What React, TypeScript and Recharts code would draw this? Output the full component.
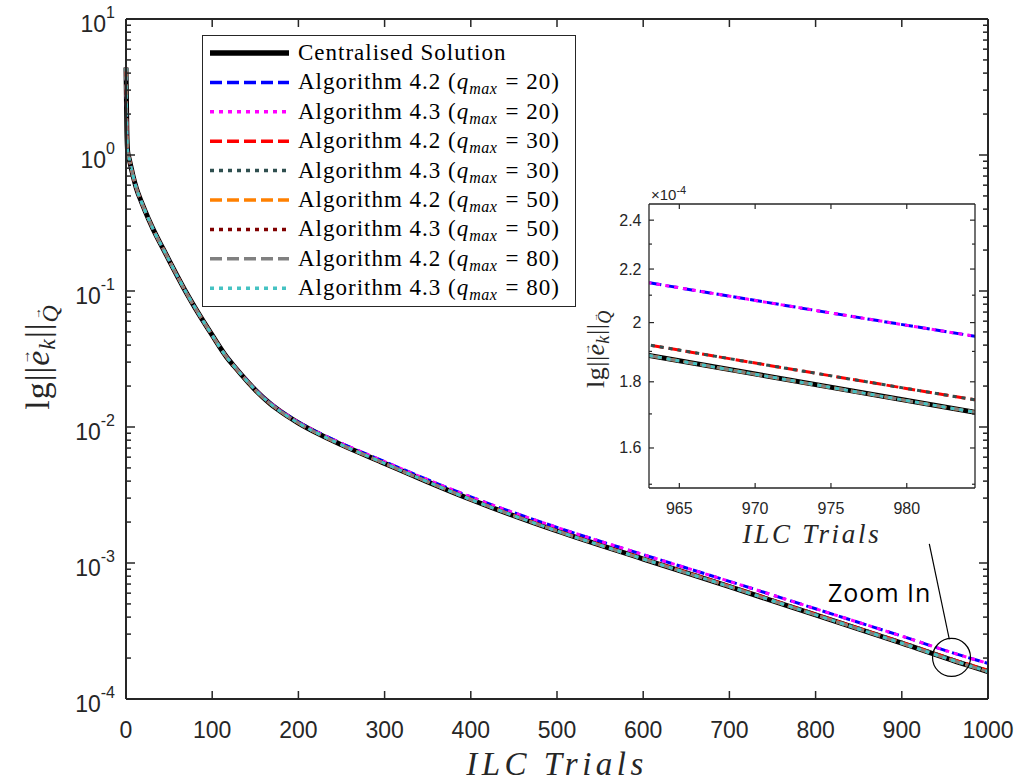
import React from 'react';
import {
  LineChart, Line, XAxis, YAxis, Legend, ReferenceDot, ReferenceLine, Customized,
} from 'recharts';

// values (log-scale error norm per ILC trial)
const trials = [0, 1, 2, 3, 5, 8, 12, 18, 26, 35, 43, 50, 60, 70, 80, 90, 100, 117, 125, 142, 150, 167, 175, 200, 225, 250, 300, 350, 400, 500, 600, 700, 800, 900, 963, 984.5, 1000];

const centralised = [4.4, 1.5, 1.05, 0.98, 0.86, 0.71, 0.57, 0.45, 0.34, 0.256, 0.205, 0.168, 0.127, 0.097, 0.0755, 0.0595, 0.0473, 0.0325, 0.0282, 0.0212, 0.0187, 0.0149, 0.0136, 0.0107, 0.0088, 0.0074, 0.0054, 0.00395, 0.00293, 0.00172, 0.00107, 0.00067, 0.000415, 0.000257, 0.0001886, 0.0001705, 0.000159];

const alg42q20 = [4.4, 1.5, 1.05, 0.98, 0.86, 0.71, 0.57, 0.45, 0.34, 0.256, 0.205, 0.168, 0.127, 0.097, 0.0755, 0.0595, 0.0473, 0.03266, 0.02837, 0.02137, 0.01889, 0.01508, 0.01378, 0.01087, 0.008976, 0.00758, 0.005567, 0.0041, 0.003062, 0.001827, 0.001153, 0.000733, 0.0004607, 0.0002899, 0.0002147, 0.0001952, 0.0001829];
const alg43q20 = alg42q20; // drawn on top of 4.2 in the figure

const alg42q30 = [4.4, 1.5, 1.05, 0.98, 0.86, 0.71, 0.57, 0.45, 0.34, 0.256, 0.205, 0.168, 0.127, 0.097, 0.0755, 0.0595, 0.0473, 0.0325, 0.0282, 0.0212, 0.0187, 0.0149, 0.0136, 0.0107, 0.0088, 0.0074, 0.0054, 0.003958, 0.002942, 0.001732, 0.001081, 0.0006787, 0.0004212, 0.0002614, 0.0001922, 0.0001743, 0.0001627];
const alg43q30 = alg42q30;

// q=50 and q=80 sit right on the centralised curve
const alg42q50 = centralised;
const alg43q50 = centralised;
const alg42q80 = centralised;
const alg43q80 = centralised;

const xTicks = [0, 100, 200, 300, 400, 500, 600, 700, 800, 900, 1000];
const yMajorTicks = [1e-4, 1e-3, 1e-2, 1e-1, 1, 10];
const yExponents = ['-4', '-3', '-2', '-1', '0', '1'];
const yMinorSteps = [2, 3, 4, 5, 6, 7, 8, 9];
const yAllTicks = [
  ...yMajorTicks,
  ...yMajorTicks.slice(0, -1).flatMap((d) => yMinorSteps.map((m) => m * d)),
];

const insetXTicks = [965, 970, 975, 980];
const insetYTicks = [1.5e-4, 1.6e-4, 1.7e-4, 1.8e-4, 1.9e-4, 2.0e-4, 2.1e-4, 2.2e-4, 2.3e-4, 2.4e-4];
const insetYLabelled = [1.6e-4, 1.8e-4, 2.0e-4, 2.2e-4, 2.4e-4];
const insetYLabels = ['1.6', '1.8', '2', '2.2', '2.4'];

const SERIES = [
  { key: 'central', values: centralised, label: 'Centralised Solution', color: '#000000', width: 5 },
  { key: 'a42q20', values: alg42q20, algo: '4.2', q: '20', color: '#0000FF', width: 3, dash: '12 5' },
  { key: 'a43q20', values: alg43q20, algo: '4.3', q: '20', color: '#FF00FF', width: 3, dash: '4 5' },
  { key: 'a42q30', values: alg42q30, algo: '4.2', q: '30', color: '#FF0000', width: 3, dash: '12 5' },
  { key: 'a43q30', values: alg43q30, algo: '4.3', q: '30', color: '#2F4F4F', width: 3, dash: '4 5' },
  { key: 'a42q50', values: alg42q50, algo: '4.2', q: '50', color: '#FF8000', width: 3, dash: '12 5' },
  { key: 'a43q50', values: alg43q50, algo: '4.3', q: '50', color: '#800000', width: 3, dash: '4 5' },
  { key: 'a42q80', values: alg42q80, algo: '4.2', q: '80', color: '#808080', width: 3, dash: '12 5' },
  { key: 'a43q80', values: alg43q80, algo: '4.3', q: '80', color: '#45C2C2', width: 3, dash: '4 5' },
];

const data = trials.map((trial, i) => {
  const row: Record<string, number> = { trial };
  SERIES.forEach((s) => { row[s.key] = s.values[i]; });
  return row;
});

const AXIS = '#262626';
const SANS = '"Liberation Sans", Arial, sans-serif';
const SERIF = '"Liberation Serif", "Times New Roman", serif';

const near = (list: number[], v: number) => list.findIndex((t) => Math.abs(v / t - 1) < 1e-6);

// ---- main axes ticks (MATLAB style: inward ticks, box on all sides) ----
const MainBottomTick = ({ x, y, payload }: any) => (
  <g>
    <line x1={x} y1={y} x2={x} y2={y - 8} stroke={AXIS} strokeWidth={1.5} />
    <text x={x} y={y + 38.5} textAnchor="middle" fontFamily={SANS} fontSize={23} fill={AXIS}>{payload.value}</text>
  </g>
);
const MainTopTick = ({ x, y }: any) => (
  <line x1={x} y1={y} x2={x} y2={y + 8} stroke={AXIS} strokeWidth={1.5} />
);
const MainLeftTick = ({ x, y, payload }: any) => {
  const idx = near(yMajorTicks, payload.value);
  const major = idx >= 0;
  return (
    <g>
      <line x1={x} y1={y} x2={x + (major ? 9 : 5)} y2={y} stroke={AXIS} strokeWidth={1.5} />
      {major && (
        <text x={x - 11} y={y + 13} textAnchor="end" fontFamily={SANS} fontSize={23} fill={AXIS}>
          10<tspan dy={-14} fontSize={16}>{yExponents[idx]}</tspan>
        </text>
      )}
    </g>
  );
};
const MainRightTick = ({ x, y, payload }: any) => {
  const major = near(yMajorTicks, payload.value) >= 0;
  return <line x1={x} y1={y} x2={x - (major ? 9 : 5)} y2={y} stroke={AXIS} strokeWidth={1.5} />;
};

// ---- inset ticks ----
const InsetBottomTick = ({ x, y, payload }: any) => (
  <g>
    <line x1={x} y1={y} x2={x} y2={y - 5} stroke={AXIS} strokeWidth={1.2} />
    <text x={x} y={y + 26} textAnchor="middle" fontFamily={SANS} fontSize={16} fill={AXIS}>{payload.value}</text>
  </g>
);
const InsetTopTick = ({ x, y }: any) => (
  <line x1={x} y1={y} x2={x} y2={y + 5} stroke={AXIS} strokeWidth={1.2} />
);
const InsetLeftTick = ({ x, y, payload }: any) => {
  const idx = near(insetYLabelled, payload.value);
  return (
    <g>
      <line x1={x} y1={y} x2={x + (idx >= 0 ? 5 : 3)} y2={y} stroke={AXIS} strokeWidth={1.2} />
      {idx >= 0 && (
        <text x={x - 7.5} y={y + 5.5} textAnchor="end" fontFamily={SANS} fontSize={16} fill={AXIS}>{insetYLabels[idx]}</text>
      )}
    </g>
  );
};
const InsetRightTick = ({ x, y, payload }: any) => {
  const major = near(insetYLabelled, payload.value) >= 0;
  return <line x1={x} y1={y} x2={x - (major ? 5 : 3)} y2={y} stroke={AXIS} strokeWidth={1.2} />;
};

// y label: lg||e_k||_Q with vector arrows over e and Q
function YTitle({ x, y, size, spacing }: { x: number; y: number; size: number; spacing: number }) {
  const sub = size * 0.7;
  const up = size * 0.55;
  return (
    <text
      transform={`translate(${x},${y}) rotate(-90)`}
      textAnchor="middle"
      fontFamily={SERIF}
      fontSize={size}
      fill={AXIS}
      letterSpacing={spacing}
    >
      lg||<tspan fontStyle="italic">e</tspan>
      <tspan fontSize={size * 0.45} dx={-size * 0.44} dy={-up}>→</tspan>
      <tspan fontStyle="italic" fontSize={sub} dx={-size * 0.04} dy={up + size * 0.18}>k</tspan>
      <tspan dy={-size * 0.18}>||</tspan>
      <tspan fontStyle="italic" fontSize={sub} dy={size * 0.25}>Q</tspan>
      <tspan fontSize={size * 0.36} dx={-size * 0.46} dy={-size * 0.5}>→</tspan>
    </text>
  );
}

const MainTitles = () => (
  <g>
    <text x={557} y={775} textAnchor="middle" fontFamily={SERIF} fontStyle="italic" fontSize={33} fill={AXIS} letterSpacing={4.5}>
      ILC Trials
    </text>
    <YTitle x={49} y={357} size={34} spacing={1} />
    <text x={828} y={602} fontFamily='"Open Sans", sans-serif' fontSize={25} fill="#000" letterSpacing={1}>Zoom In</text>
  </g>
);

const InsetTitles = () => (
  <g>
    <text x={252} y={373} textAnchor="middle" fontFamily={SERIF} fontStyle="italic" fontSize={27} fill={AXIS} letterSpacing={2.7}>
      ILC Trials
    </text>
    <YTitle x={44} y={179} size={26} spacing={0.5} />
    <text x={91} y={30} fontFamily={SANS} fontSize={15} fill={AXIS}>
      ×10<tspan dy={-6} fontSize={11}>-4</tspan>
    </text>
  </g>
);

function LegendBox() {
  return (
    <div style={{ width: 374, height: 272, boxSizing: 'border-box', border: `1px solid ${AXIS}`, background: '#fff' }}>
      <svg width={372} height={270} style={{ display: 'block' }}>
        {SERIES.map((s, i) => {
          const cy = 17 + i * 29.4;
          return (
            <g key={s.key}>
              <line x1={7} x2={86} y1={cy} y2={cy} stroke={s.color} strokeWidth={s.key === 'central' ? 5.5 : 3.5} strokeDasharray={s.dash} />
              <text x={95} y={cy + 7} fontFamily={SERIF} fontSize={23} fill="#000" letterSpacing={1}>
                {s.label ? s.label : (
                  <>
                    Algorithm {s.algo} (<tspan fontStyle="italic">q</tspan>
                    <tspan fontStyle="italic" fontSize={16} dy={5} letterSpacing={0.5}>max</tspan>
                    <tspan dy={-5} dx={8}>= {s.q})</tspan>
                  </>
                )}
              </text>
            </g>
          );
        })}
      </svg>
    </div>
  );
}

const renderLines = () =>
  SERIES.map((s) => (
    <Line
      key={s.key}
      type="monotone"
      dataKey={s.key}
      stroke={s.color}
      strokeWidth={s.width}
      strokeDasharray={s.dash}
      dot={false}
      activeDot={false}
      isAnimationActive={false}
    />
  ));

export default function App() {
  return (
    <div style={{ position: 'absolute', left: 0, top: 0, width: 1023, height: 784, background: '#fff' }}>
      <LineChart width={1023} height={784} data={data} margin={{ top: 19, right: 35, bottom: 55, left: 66 }}>
        <XAxis
          dataKey="trial" type="number" domain={[0, 1000]} ticks={xTicks} interval={0} height={30}
          tickLine={false} tickSize={0} tickMargin={0} axisLine={{ stroke: AXIS, strokeWidth: 2 }} tick={MainBottomTick}
        />
        <XAxis
          xAxisId="top" orientation="top" mirror dataKey="trial" type="number" domain={[0, 1000]} ticks={xTicks} interval={0}
          tickLine={false} tickSize={0} tickMargin={0} axisLine={{ stroke: AXIS, strokeWidth: 2 }} tick={MainTopTick}
        />
        <YAxis
          scale="log" type="number" domain={[1e-4, 10]} ticks={yAllTicks} interval={0} width={60}
          tickLine={false} tickSize={0} tickMargin={0} axisLine={{ stroke: AXIS, strokeWidth: 2 }} tick={MainLeftTick}
        />
        <YAxis
          yAxisId="right" orientation="right" mirror scale="log" type="number" domain={[1e-4, 10]} allowDataOverflow
          ticks={yAllTicks} interval={0} tickLine={false} tickSize={0} tickMargin={0}
          axisLine={{ stroke: AXIS, strokeWidth: 2 }} tick={MainRightTick}
        />
        {renderLines()}
        <ReferenceLine
          segment={[{ x: 931.9, y: 1.38e-3 }, { x: 955.1, y: 2.75e-4 }]}
          stroke="#000" strokeWidth={1.2}
        />
        <ReferenceDot x={957.7} y={2.02e-4} r={19} fill="none" stroke="#000" strokeWidth={1.2} />
        <Legend
          layout="horizontal" verticalAlign="middle" align="center"
          wrapperStyle={{ left: 202, top: 35, width: 374, height: 272 }}
          content={() => <LegendBox />}
        />
        <Customized component={MainTitles} />
      </LineChart>

      <div style={{ position: 'absolute', left: 560, top: 170 }}>
        <LineChart width={430} height={390} data={data} margin={{ top: 34, right: 15, bottom: 42, left: 39 }}>
          <XAxis
            dataKey="trial" type="number" domain={[963, 984.5]} allowDataOverflow ticks={insetXTicks} interval={0} height={30}
            tickLine={false} tickSize={0} tickMargin={0} axisLine={{ stroke: AXIS, strokeWidth: 1.3 }} tick={InsetBottomTick}
          />
          <XAxis
            xAxisId="top" orientation="top" mirror dataKey="trial" type="number" domain={[963, 984.5]} allowDataOverflow
            ticks={insetXTicks} interval={0} tickLine={false} tickSize={0} tickMargin={0}
            axisLine={{ stroke: AXIS, strokeWidth: 1.3 }} tick={InsetTopTick}
          />
          <YAxis
            scale="log" type="number" domain={[1.49e-4, 2.47e-4]} allowDataOverflow ticks={insetYTicks} interval={0} width={50}
            tickLine={false} tickSize={0} tickMargin={0} axisLine={{ stroke: AXIS, strokeWidth: 1.3 }} tick={InsetLeftTick}
          />
          <YAxis
            yAxisId="right" orientation="right" mirror scale="log" type="number" domain={[1.49e-4, 2.47e-4]} allowDataOverflow
            ticks={insetYTicks} interval={0} tickLine={false} tickSize={0} tickMargin={0}
            axisLine={{ stroke: AXIS, strokeWidth: 1.3 }} tick={InsetRightTick}
          />
          {renderLines()}
          <Customized component={InsetTitles} />
        </LineChart>
      </div>
    </div>
  );
}
